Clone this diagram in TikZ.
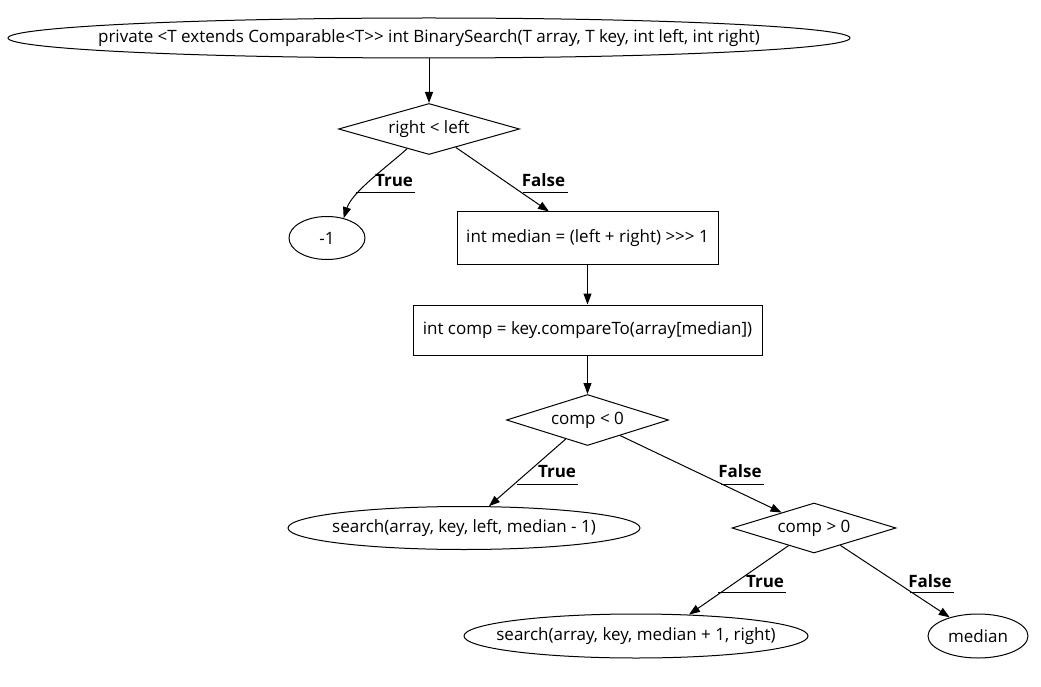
\documentclass[tikz,border=0pt]{standalone}
\usepackage{fontspec}
\setmainfont[Ligatures=TeXOff]{Open Sans}
\usetikzlibrary{shapes.geometric, arrows.meta}

% text that does not widen its ellipse
\newcommand{\flattext}[1]{\makebox[0pt]{#1}}

\tikzset{
    every node/.style={font=\fontsize{17}{20}\selectfont},
    oval/.style={draw, ellipse, inner sep=0pt},
    stepbox/.style={draw, rectangle, inner sep=0pt},
    test/.style={draw, diamond, aspect=3.5, inner sep=0pt},
    arr/.style={-{Triangle[length=11pt, width=8pt]}},
    branch/.style={font=\fontsize{17}{20}\selectfont\bfseries,
        anchor=base, inner xsep=2pt, inner ysep=0pt},
}

\begin{document}
\begin{tikzpicture}[x=1pt, y=1pt, line width=1pt]
    \useasboundingbox (0, 0) rectangle (1041, -687);

    \node[oval, minimum width=842pt, minimum height=40pt] (head)
        at (429, -38) {\flattext{private <T extends Comparable<T>> int
        BinarySearch(T array, T key, int left, int right)}};
    \node[test, minimum width=181pt, minimum height=51pt] (chk)
        at (429, -129) {right < left};
    \node[oval, minimum width=76pt, minimum height=43pt] (neg)
        at (327, -238) {\flattext{-1}};
    \node[stepbox, minimum width=261pt, minimum height=52pt] (mid)
        at (587.5, -238) {int median = (left + right) >>> 1};
    \node[stepbox, minimum width=349pt, minimum height=50pt] (cmp)
        at (587.5, -330) {int comp = key.compareTo(array[median])};
    \node[test, minimum width=162pt, minimum height=51pt] (less)
        at (587.5, -420) {comp < 0};
    \node[oval, minimum width=352pt, minimum height=43pt] (lower)
        at (464, -528) {\flattext{search(array, key, left, median - 1)}};
    \node[test, minimum width=164pt, minimum height=50pt] (more)
        at (814, -528) {comp > 0};
    \node[oval, minimum width=344pt, minimum height=44pt] (upper)
        at (636, -636) {\flattext{search(array, key, median + 1, right)}};
    \node[oval, minimum width=100pt, minimum height=44pt] (found)
        at (978, -636) {\flattext{median}};

    \draw[arr] (head) -- (chk);
    \draw[arr] (chk) to[out=-138, in=72, looseness=0.75] (neg.50);
    \draw[arr] (chk) -- (mid);
    \draw[arr] (mid) -- (cmp);
    \draw[arr] (cmp) -- (less);
    \draw[arr] (less) -- (lower);
    \draw[arr] (less) -- (more);
    \draw[arr] (more) -- (upper.22);
    \draw[arr] (more) -- (found);

    % edge labels, underlined back to their edge
    \node[branch] (yesA) at (394, -187) {True};
    \node[branch] (noA) at (543.5, -187) {False};
    \node[branch] (yesB) at (557, -477) {True};
    \node[branch] (noB) at (740, -477) {False};
    \node[branch] (yesC) at (765, -587) {True};
    \node[branch] (noC) at (930, -587) {False};

    \coordinate (uyA) at (356, -193);
    \coordinate (unA) at (523, -193);
    \coordinate (uyB) at (517, -484);
    \coordinate (unB) at (721, -484);
    \coordinate (uyC) at (718, -592);
    \coordinate (unC) at (910, -592);

    \draw (uyA) -- (uyA -| yesA.east);
    \draw (unA) -- (unA -| noA.east);
    \draw (uyB) -- (uyB -| yesB.east);
    \draw (unB) -- (unB -| noB.east);
    \draw (uyC) -- (uyC -| yesC.east);
    \draw (unC) -- (unC -| noC.east);
\end{tikzpicture}
\end{document}
